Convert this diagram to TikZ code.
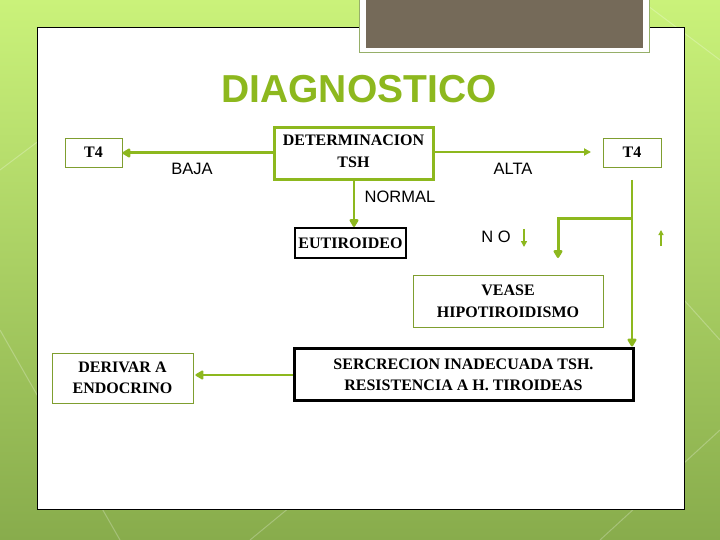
\documentclass[tikz,border=0pt]{standalone}
\usepackage{fontspec}
\setmainfont{Liberation Serif}
\newfontfamily\arialf{Liberation Sans}
\usetikzlibrary{arrows.meta}
\definecolor{limeg}{RGB}{141,184,30}
\definecolor{bgtop}{RGB}{202,242,122}
\definecolor{bgbot}{RGB}{136,172,76}
\definecolor{browny}{RGB}{117,106,89}
\definecolor{frameg}{RGB}{150,175,105}
\tikzset{
  serift/.style={font=\fontsize{16}{19}\selectfont\bfseries, text=black, align=center, inner sep=0pt},
  sanst/.style={font=\arialf\fontsize{16.5}{19}\selectfont, text=black, inner sep=0pt},
  thinbox/.style={draw=limeg!80!black!90, line width=0.9pt, fill=white, serift},
  thickgbox/.style={draw=limeg, line width=3pt, fill=white},
  blackbox/.style={draw=black, line width=2pt, fill=white, serift},
  blackthick/.style={draw=black, line width=3pt, fill=white},
  garrow/.style={draw=limeg, -{Triangle[length=9pt,width=10pt,round]}},
}
\begin{document}
\begin{tikzpicture}[x=1pt,y=-1pt]
\useasboundingbox (0,0) rectangle (720,540);
\shade[top color=bgtop, bottom color=bgbot] (0,0) rectangle (720,540);
\foreach \a/\b/\c/\d in {0/330/120/540, 600/540/720/430, 640/0/720/60, 0/170/40/140, 250/540/420/400, 684/300/720/340}
  \draw[white, opacity=0.25, line width=1pt] (\a,\b) -- (\c,\d);
% panel
\draw[black, line width=0.8pt, fill=white] (37,27) rectangle (684,509);
% top brown block
\draw[frameg, line width=1pt, fill=white] (359,-3) rectangle (649,53);
\fill[browny] (366,-3) rectangle (643,48);
% title
\node[font=\arialf\bfseries\fontsize{39}{44}\selectfont, text=limeg, inner sep=0pt] (title) at (359,89) {DIAGNOSTICO};
% nodes
\node[thinbox, minimum width=57pt, minimum height=29pt] (t4l) at (93.5,152.5) {T4};
\node[thinbox, minimum width=58pt, minimum height=29pt] (t4r) at (632,152.5) {T4};
\node[thickgbox, minimum width=159pt, minimum height=52pt] (det) at (353.5,154) {};
\node[serift, anchor=north] (dett) at ([yshift=-8pt]det.north) {DETERMINACION\\[3pt]TSH};
\node[blackbox, minimum width=111pt, minimum height=30pt] (eut) at (350.5,243) {EUTIROIDEO};
\node[thinbox, minimum width=190pt, minimum height=52pt] (vea) at (508,301) {VEASE\\[3pt]HIPOTIROIDISMO};
\node[blackthick, minimum width=339pt, minimum height=52pt] (ser) at (463.5,374) {};
\node[serift] (sert) at ([yshift=-1pt]ser.center) {SERCRECION INADECUADA TSH.\\[2pt]RESISTENCIA A H. TIROIDEAS};
\node[thinbox, minimum width=141pt, minimum height=50pt] (der) at (122.5,378) {DERIVAR A\\[2pt]ENDOCRINO};
% labels
\node[sanst] (baja) at (192,169) {BAJA};
\node[sanst] (alta) at (513,169) {ALTA};
\node[sanst] (normal) at (400,197) {NORMAL};
\node[sanst] (no) at (496,237) {N O};
% connectors
\draw[garrow, line width=3pt] (det.west |- 0,153) -- (t4l.east |- 0,153);
\coordinate (altaend) at (591,152);
\draw[garrow, line width=2pt, -{Triangle[length=7pt,width=7pt]}] (det.east |- 0,152) -- (altaend);
\draw[garrow, line width=2.6pt] (354,180) -- (eut.north -| 354,0);
\coordinate (vtop) at (632,180);
\coordinate (vjoin) at (632,219);
\coordinate (bcorner) at (558,219);
\coordinate (bend) at (558,258);
\draw[garrow, line width=2.2pt] (vtop) -- (ser.north -| vtop);
\draw[garrow, line width=3pt] (vjoin) -- (bcorner) -- (bend);
\draw[garrow, line width=2pt] (ser.west |- 0,375) -- ([xshift=2pt]der.east |- 0,375);
\coordinate (noa) at (524,229);
\coordinate (nob) at (524,247);
\draw[garrow, line width=1.6pt, -{Triangle[length=6pt,width=6pt]}] (noa) -- (nob);
\coordinate (upa) at (661,246);
\coordinate (upb) at (661,230);
\draw[garrow, line width=1.3pt, -{Triangle[length=5pt,width=5pt]}] (upa) -- (upb);
\end{tikzpicture}
\end{document}
